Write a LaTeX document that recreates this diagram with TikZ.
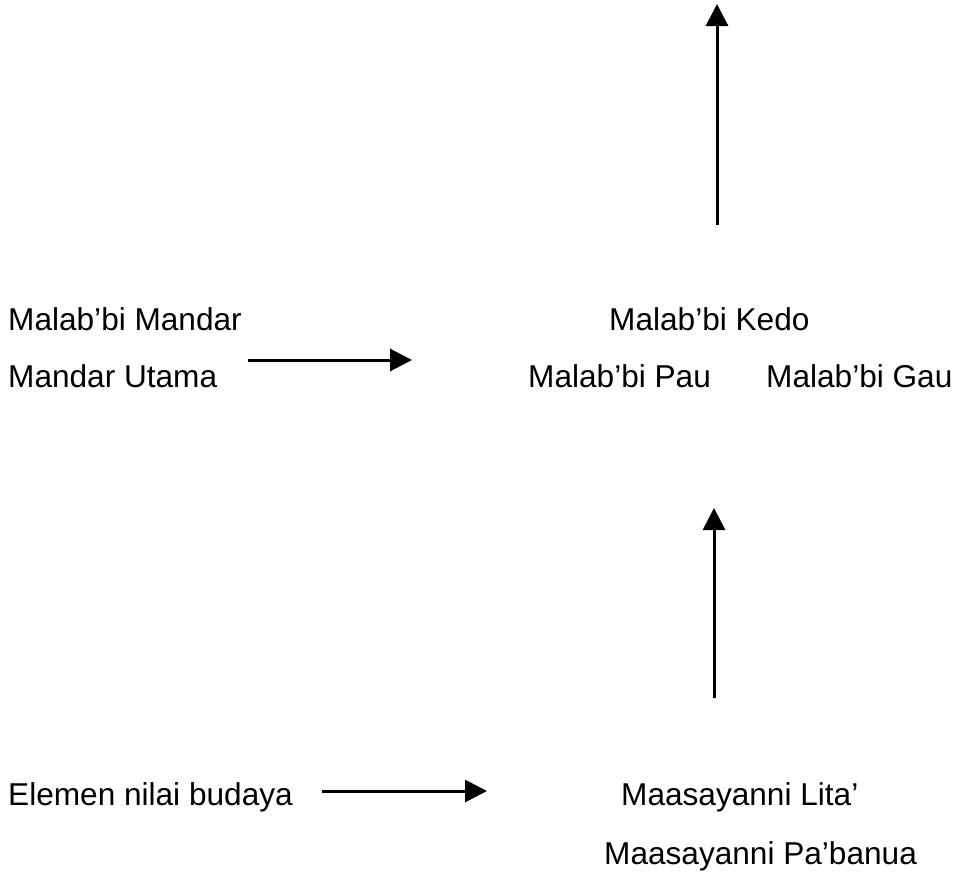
\documentclass[tikz,border=0pt]{standalone}
\usepackage{fontspec}
\setmainfont{Liberation Sans}
\usetikzlibrary{arrows.meta}
\begin{document}
\begin{tikzpicture}[x=1pt,y=-1pt,
  lbl/.style={anchor=base west,inner sep=0pt,font=\fontsize{31.6}{38}\selectfont},
  arr/.style={line width=3pt,-{Triangle[length=22pt,width=22pt]}}]
\useasboundingbox (0,0) rectangle (980,879);
\node[lbl] (mm) at (8,330) {Malab’bi Mandar};
\node[lbl] (mu) at (8,387) {Mandar Utama};
\node[lbl] (kedo) at (609,330) {Malab’bi Kedo};
\node[lbl] (pau) at (528,387) {Malab’bi Pau};
\node[lbl] (gau) at (766,387) {Malab’bi Gau};
\node[lbl] (el) at (8,805) {Elemen nilai budaya};
\node[lbl] (lita) at (621,805) {Maasayanni Lita’};
\node[lbl] (pab) at (604,864) {Maasayanni Pa’banua};
\coordinate (t1) at (717,225); \coordinate (t2) at (717,4);
\coordinate (m1) at (248,360); \coordinate (m2) at (412,360);
\coordinate (v1) at (714,698); \coordinate (v2) at (714,508);
\coordinate (b1) at (322,791); \coordinate (b2) at (487,791);
\draw[arr] (t1) -- (t2);
\draw[arr] (m1) -- (m2);
\draw[arr] (v1) -- (v2);
\draw[arr] (b1) -- (b2);
\end{tikzpicture}
\end{document}
